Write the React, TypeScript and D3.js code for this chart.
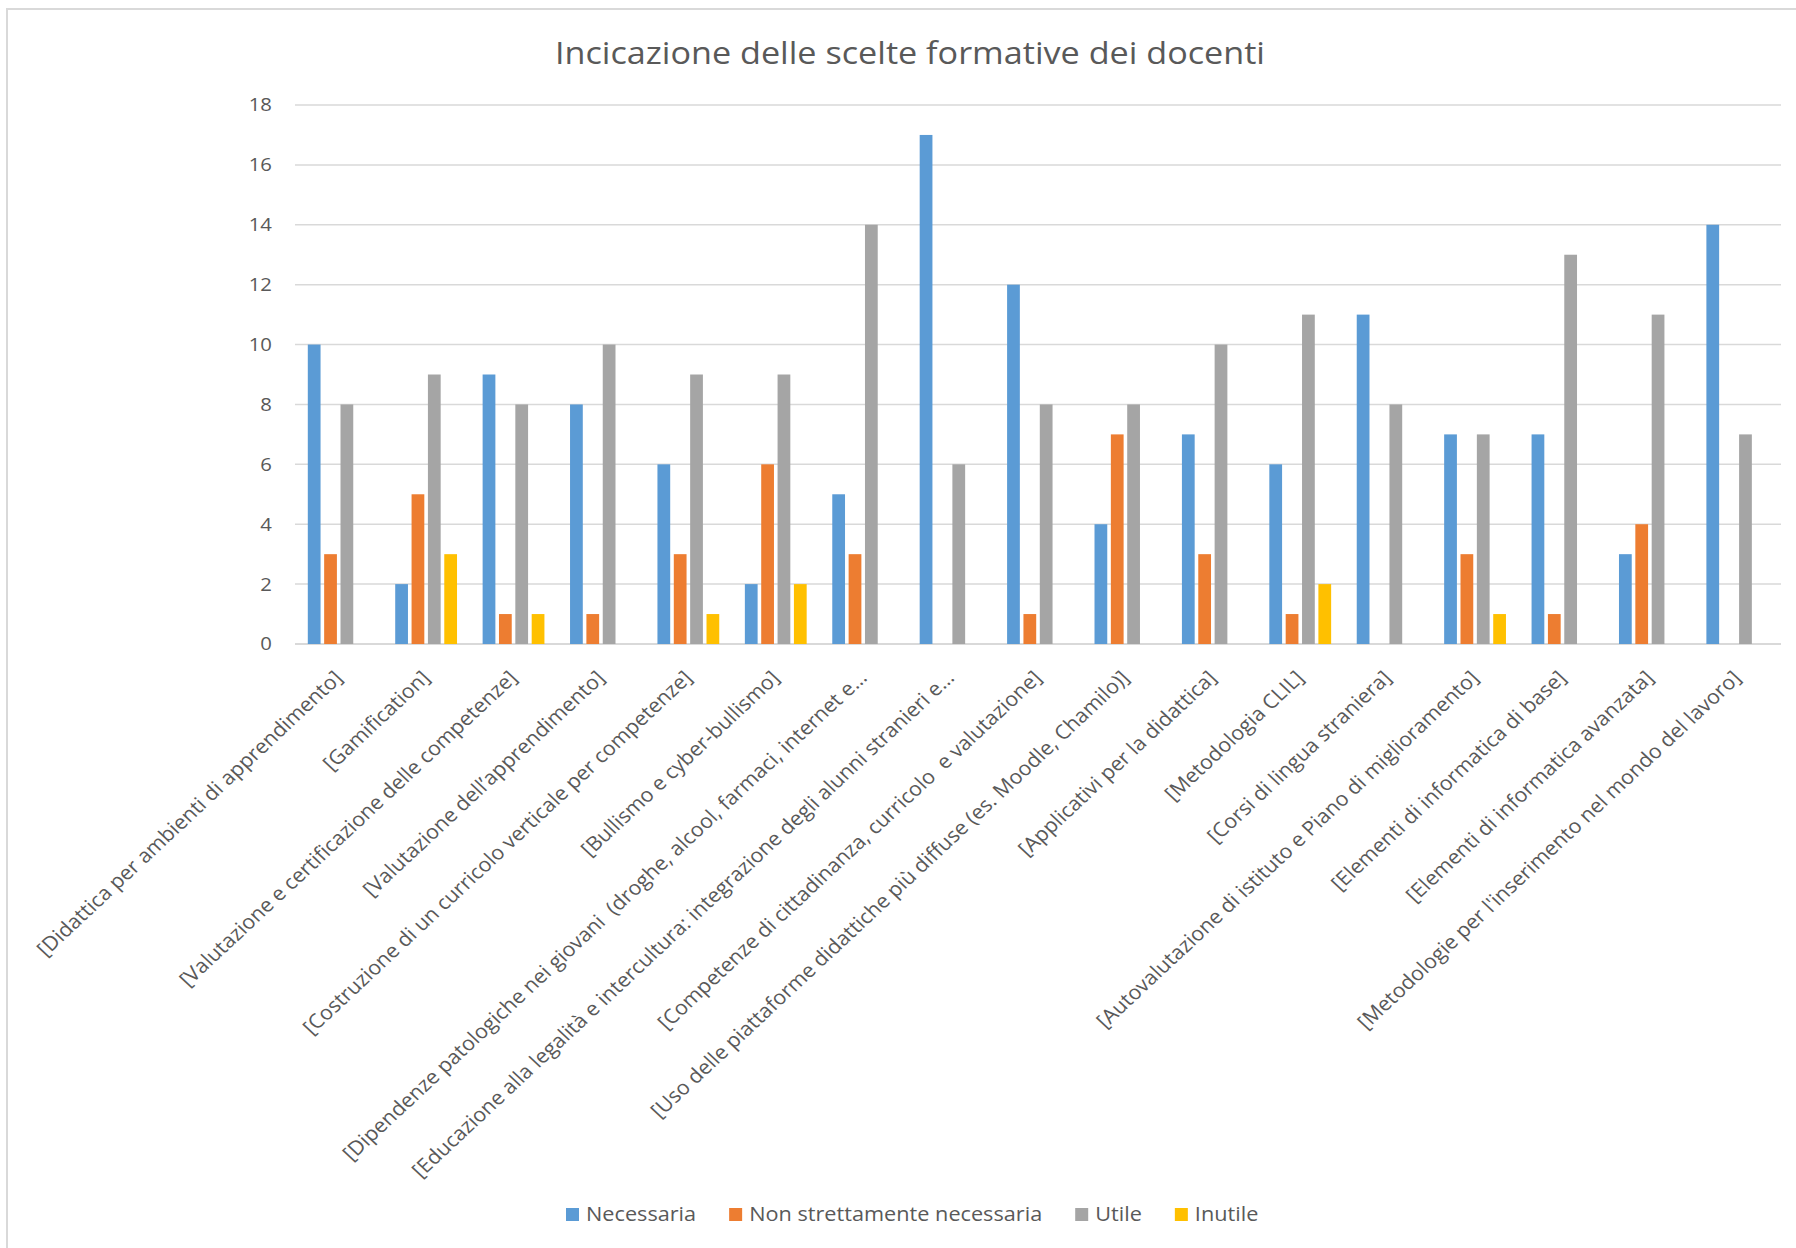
import React, { useEffect, useRef } from "react";
import * as d3 from "d3";

const categories = [
  "[Didattica per ambienti di apprendimento]",
  "[Gamification]",
  "[Valutazione e certificazione delle competenze]",
  "[Valutazione dell’apprendimento]",
  "[Costruzione di un curricolo verticale per competenze]",
  "[Bullismo e cyber-bullismo]",
  "[Dipendenze patologiche nei giovani  (droghe, alcool, farmaci, internet e…",
  "[Educazione alla legalità e intercultura: integrazione degli alunni stranieri e…",
  "[Competenze di cittadinanza, curricolo  e valutazione]",
  "[Uso delle piattaforme didattiche più diffuse (es. Moodle, Chamilo)]",
  "[Applicativi per la didattica]",
  "[Metodologia CLIL]",
  "[Corsi di lingua straniera]",
  "[Autovalutazione di istituto e Piano di miglioramento]",
  "[Elementi di informatica di base]",
  "[Elementi di informatica avanzata]",
  "[Metodologie per l'inserimento nel mondo del lavoro]",
];

const seriesNames = ["Necessaria", "Non strettamente necessaria", "Utile", "Inutile"];
const seriesColors = ["#5B9BD5", "#ED7D31", "#A5A5A5", "#FFC000"];

const necessaria = [10, 2, 9, 8, 6, 2, 5, 17, 12, 4, 7, 6, 11, 7, 7, 3, 14];
const nonStrettamente = [3, 5, 1, 1, 3, 6, 3, 0, 1, 7, 3, 1, 0, 3, 1, 4, 0];
const utile = [8, 9, 8, 10, 9, 9, 14, 6, 8, 8, 10, 11, 8, 7, 13, 11, 7];
const inutile = [0, 3, 1, 0, 1, 2, 0, 0, 0, 0, 0, 2, 0, 1, 0, 0, 0];

const yTicks = [0, 2, 4, 6, 8, 10, 12, 14, 16, 18];
const title = "Incicazione delle scelte formative dei docenti";

const WIDTH = 1796;
const HEIGHT = 1248;
const STRETCH = 1.13; // the picture is a bit wider than tall, text looks stretched
const LABEL_STRETCH = 1.07;
const TEXT = "#595959";
const GRID = "#d9d9d9";
const FONT = "'Open Sans', 'Noto Sans', sans-serif";

const App = () => {
  const svgRef = useRef(null);

  useEffect(() => {
    const svg = d3.select(svgRef.current);
    svg.selectAll("*").remove();

    const values = [necessaria, nonStrettamente, utile, inutile];
    const rows = categories.map((c, i) => ({
      category: c,
      values: seriesNames.map((s, j) => ({ series: s, color: seriesColors[j], value: values[j][i] })),
    }));

    // chart frame (cropped on the right and at the bottom)
    svg.append("rect")
      .attr("x", 7)
      .attr("y", 9)
      .attr("width", WIDTH + 20)
      .attr("height", HEIGHT + 20)
      .attr("fill", "white")
      .attr("stroke", GRID)
      .attr("stroke-width", 2);

    const y = d3.scaleLinear().domain([0, 18]).range([644, 105]);
    const x0 = d3.scaleBand().domain(categories).range([295, 1781]);
    const x1 = d3.scaleBand().domain(seriesNames).range([11, x0.bandwidth() - 11]);

    // gridlines
    svg.append("g")
      .selectAll("line")
      .data(yTicks)
      .enter()
      .append("line")
      .attr("x1", 295)
      .attr("x2", 1781)
      .attr("y1", (d) => y(d))
      .attr("y2", (d) => y(d))
      .attr("stroke", GRID)
      .attr("stroke-width", (d) => (d === 0 ? 2 : 1.5));

    // y tick labels
    svg.append("g")
      .selectAll("text")
      .data(yTicks)
      .enter()
      .append("text")
      .attr("transform", (d) => `translate(272,${y(d)}) scale(${STRETCH},1)`)
      .attr("dy", "0.36em")
      .attr("text-anchor", "end")
      .attr("font-family", FONT)
      .attr("font-size", 18)
      .attr("fill", TEXT)
      .text((d) => d);

    // bars
    const groups = svg.append("g")
      .selectAll("g")
      .data(rows)
      .enter()
      .append("g")
      .attr("transform", (d) => `translate(${x0(d.category)},0)`);

    groups.selectAll("rect")
      .data((d) => d.values.filter((v) => v.value > 0))
      .enter()
      .append("rect")
      .attr("x", (d) => x1(d.series) + 1.8)
      .attr("width", x1.bandwidth() - 3.6)
      .attr("y", (d) => y(d.value))
      .attr("height", (d) => y(0) - y(d.value))
      .attr("fill", (d) => d.color);

    // category labels, rotated
    svg.append("g")
      .selectAll("text")
      .data(categories)
      .enter()
      .append("text")
      .attr("transform", (d) => `translate(${x0(d) + x0.bandwidth() / 2 + 5},679) scale(${LABEL_STRETCH},1) rotate(-45)`)
      .attr("text-anchor", "end")
      .attr("font-family", FONT)
      .attr("font-size", 20)
      .attr("fill", TEXT)
      .style("white-space", "pre")
      .text((d) => d);

    // title
    svg.append("text")
      .attr("x", 910)
      .attr("y", 64)
      .attr("text-anchor", "middle")
      .attr("font-family", FONT)
      .attr("font-size", 31)
      .attr("fill", TEXT)
      .attr("textLength", 710)
      .attr("lengthAdjust", "spacingAndGlyphs")
      .text(title);

    // legend, laid out from measured text widths
    const legend = svg.append("g");
    let lx = 566;
    seriesNames.forEach((name, i) => {
      legend.append("rect")
        .attr("x", lx)
        .attr("y", 1208)
        .attr("width", 13)
        .attr("height", 13)
        .attr("fill", seriesColors[i]);
      const t = legend.append("text")
        .attr("transform", `translate(${lx + 20},1214) scale(${STRETCH},1)`)
        .attr("dy", "0.36em")
        .attr("font-family", FONT)
        .attr("font-size", 19.2)
        .attr("fill", TEXT)
        .text(name);
      const w = t.node().getComputedTextLength() * STRETCH;
      lx += 20 + w + 33;
    });
  }, []);

  return (
    <svg
      ref={svgRef}
      width={WIDTH}
      height={HEIGHT}
      style={{ position: "absolute", left: 0, top: 0, background: "white" }}
    ></svg>
  );
};

export default App;
